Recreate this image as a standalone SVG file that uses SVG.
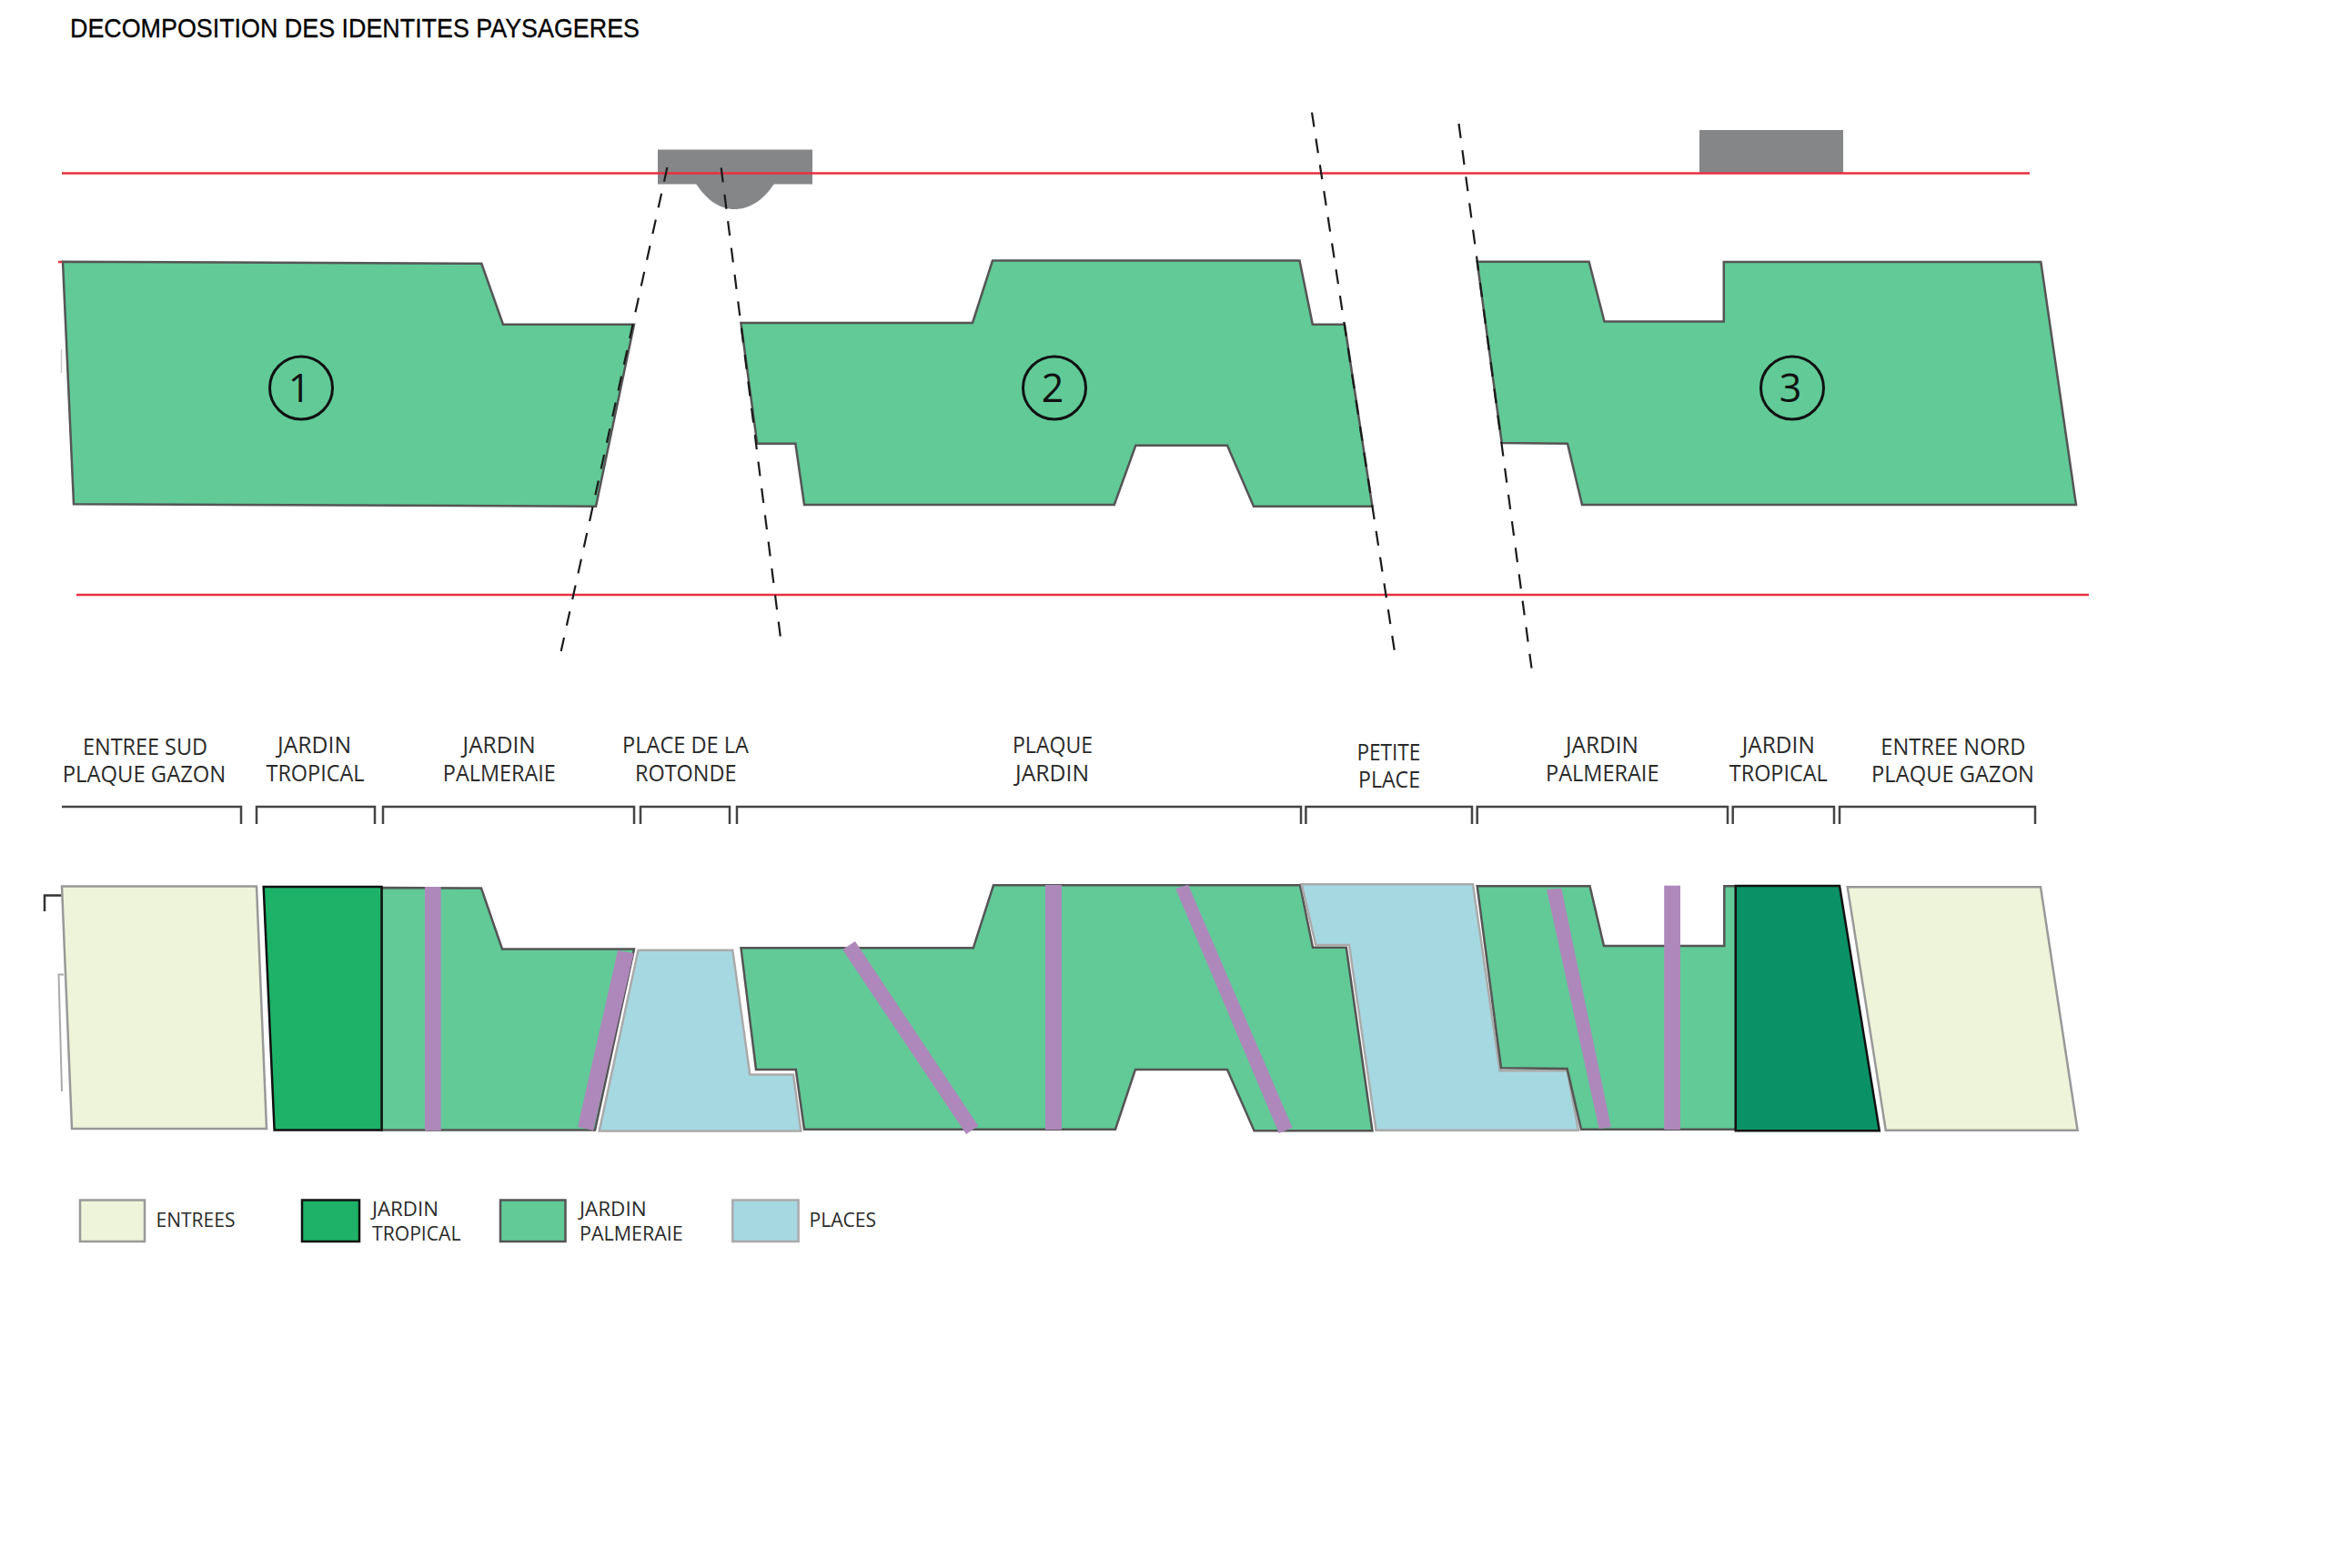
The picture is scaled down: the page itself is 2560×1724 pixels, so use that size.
<svg xmlns="http://www.w3.org/2000/svg" width="2560" height="1724" viewBox="0 0 2560 1724">
<style>
.red{stroke:#E8303F;stroke-width:2.5;fill:none}
.dash{stroke:#1a1a1a;stroke-width:2.2;fill:none}
.gray{fill:#858688}
.pal{fill:#61CA97;stroke:#555;stroke-width:2.5;stroke-linejoin:miter}
.ent{fill:#EEF4D9;stroke:#999;stroke-width:2.5}
.trop{fill:#1DB268;stroke:#111;stroke-width:2.5}
.trop2{fill:#0B9166;stroke:#111;stroke-width:2.5}
.plc{fill:#A6D8E2;stroke:#aaa;stroke-width:2.5}
.pur{fill:#AE88BB}
.br{stroke:#444;stroke-width:2.5;fill:none}
.num{fill:none;stroke:#111;stroke-width:3}
text{font-family:"Open Sans","Noto Sans","Liberation Sans",sans-serif;fill:#2a2a2a}
.h{font-size:25px;text-anchor:start}
.l{font-size:22.5px;text-anchor:start}
.n{font-size:43px;text-anchor:middle;fill:#111}
.t{font-family:"Liberation Sans",Arial,sans-serif;font-size:29px;fill:#000;stroke:#000;stroke-width:.3}
</style>
<text class="t" x="77" y="40.5" textLength="626" lengthAdjust="spacingAndGlyphs">DECOMPOSITION DES IDENTITES PAYSAGERES</text>

<g id="site-plan">
<rect id="building-1" class="gray" x="723" y="164.5" width="170" height="38"/>
<path class="gray" d="M765 202C778 222 793 230 807 230C822 230 838 222 851 202Z"/>
<rect id="building-2" class="gray" x="1868" y="143" width="158" height="47.5"/>
<line class="red" x1="64" y1="288" x2="70" y2="288"/>
<line x1="67.5" y1="384" x2="67.5" y2="410" stroke="#ccc" stroke-width="1.5"/>
<g id="zone-1">
<polygon class="pal" points="69,287.8 529.3,289.8 553,356.7 697,356.7 655,556.7 81,554.3"/>
<circle class="num" cx="331" cy="426.5" r="34.5"/><text class="n" x="329" y="442">1</text>
</g>
<g id="zone-2">
<polygon class="pal" points="814.4,355 1069,355 1091,286.5 1428.5,286.5 1442.8,356.7 1478,356.7 1508.4,556.7 1378,556.7 1349,489.8 1248.3,489.8 1224.8,555 884,555 874.4,487.8 832.3,487.8"/>
<circle class="num" cx="1159" cy="426.5" r="34.5"/><text class="n" x="1157" y="442">2</text>
</g>
<g id="zone-3">
<polygon class="pal" points="1623.7,287.8 1746.6,287.8 1763.5,353.5 1894.8,353.5 1894.8,288 2243.3,288 2282,555 1739,555 1723,487.8 1650.7,487"/>
<circle class="num" cx="1970" cy="426.5" r="34.5"/><text class="n" x="1968" y="442">3</text>
</g>
</g>

<g id="connectors">
<line class="red" x1="68" y1="190.6" x2="2231" y2="190.6"/>
<line class="red" x1="84" y1="654" x2="2296" y2="654"/>
<line class="dash" stroke-dasharray="16 13.4" x1="733.4" y1="184" x2="616.7" y2="716"/>
<line class="dash" stroke-dasharray="16 13.6" x1="792.7" y1="184.5" x2="857.8" y2="700"/>
<line class="dash" stroke-dasharray="16 13.1" x1="1442" y1="123.7" x2="1532.8" y2="715.5"/>
<line class="dash" stroke-dasharray="16 13.4" x1="1603.5" y1="136" x2="1683.5" y2="734.7"/>
</g>

<g id="brackets">
<path class="br" d="M68 887H265V906"/>
<path class="br" d="M282 906V887H412V906"/>
<path class="br" d="M421 906V887H697V906"/>
<path class="br" d="M704 906V887H802V906"/>
<path class="br" d="M810 906V887H1430V906"/>
<path class="br" d="M1435.4 906V887H1618V906"/>
<path class="br" d="M1623.7 906V887H1899V906"/>
<path class="br" d="M1904.7 906V887H2016V906"/>
<path class="br" d="M2022 906V887H2237V906"/>
</g>

<g id="section-labels">
<text class="h" x="91" y="830" textLength="137" lengthAdjust="spacingAndGlyphs">ENTREE SUD</text>
<text class="h" x="68.7" y="859.5" textLength="179.6" lengthAdjust="spacingAndGlyphs">PLAQUE GAZON</text>
<text class="h" x="305" y="828.4" textLength="81" lengthAdjust="spacingAndGlyphs">JARDIN</text>
<text class="h" x="292.5" y="858.6" textLength="108" lengthAdjust="spacingAndGlyphs">TROPICAL</text>
<text class="h" x="508.6" y="828.4" textLength="80" lengthAdjust="spacingAndGlyphs">JARDIN</text>
<text class="h" x="486.8" y="858.6" textLength="124" lengthAdjust="spacingAndGlyphs">PALMERAIE</text>
<text class="h" x="684" y="828.4" textLength="139" lengthAdjust="spacingAndGlyphs">PLACE DE LA</text>
<text class="h" x="698" y="858.6" textLength="111.5" lengthAdjust="spacingAndGlyphs">ROTONDE</text>
<text class="h" x="1113" y="828.4" textLength="88" lengthAdjust="spacingAndGlyphs">PLAQUE</text>
<text class="h" x="1116" y="858.6" textLength="81" lengthAdjust="spacingAndGlyphs">JARDIN</text>
<text class="h" x="1491.4" y="836" textLength="70" lengthAdjust="spacingAndGlyphs">PETITE</text>
<text class="h" x="1493" y="866" textLength="68" lengthAdjust="spacingAndGlyphs">PLACE</text>
<text class="h" x="1721" y="828.4" textLength="80" lengthAdjust="spacingAndGlyphs">JARDIN</text>
<text class="h" x="1699" y="858.6" textLength="124.5" lengthAdjust="spacingAndGlyphs">PALMERAIE</text>
<text class="h" x="1914.8" y="828.4" textLength="80" lengthAdjust="spacingAndGlyphs">JARDIN</text>
<text class="h" x="1900.8" y="858.6" textLength="108" lengthAdjust="spacingAndGlyphs">TROPICAL</text>
<text class="h" x="2067.3" y="830" textLength="159" lengthAdjust="spacingAndGlyphs">ENTREE NORD</text>
<text class="h" x="2057" y="859.5" textLength="179" lengthAdjust="spacingAndGlyphs">PLAQUE GAZON</text>
</g>

<g id="section">
<path d="M49 1002V984.5H68" fill="none" stroke="#333" stroke-width="2.5"/>
<path d="M70 1071.5H64.5L68 1200" fill="none" stroke="#aaa" stroke-width="2"/>
<polygon id="palmeraie-1" class="pal" points="419.5,976 529,976.5 552,1043.5 697,1043.5 654,1242.5 419.5,1242.5"/>
<polygon id="entree-sud" class="ent" points="68,974.5 282,974.5 293,1241 79,1241"/>
<polygon id="tropical-1" class="trop" points="289.7,975 419.5,975 419.5,1242.5 301.6,1242.5"/>
<rect class="pur" x="467" y="975" width="17.7" height="268"/>
<polygon class="pur" points="679,1045 696.6,1048 652,1243 635,1239"/>
<polygon id="place-rotonde" class="plc" points="701.5,1044.7 805.3,1044.7 824.3,1181.6 872,1181.6 880.4,1243.5 658.7,1243.5"/>
<polygon id="plaque-jardin" class="pal" points="814.5,1042.3 1069.8,1042.3 1092,973.3 1429,973.3 1443,1041.7 1479.8,1041.7 1508.5,1243.3 1378.6,1243.3 1349,1176 1247.9,1176 1226,1241.7 884,1241.7 874.8,1176 831,1176"/>
<polygon class="pur" points="926,1044 940,1035 1075.4,1238 1062,1247"/>
<rect class="pur" x="1149" y="973" width="18" height="269"/>
<polygon class="pur" points="1292.2,977 1306,972.7 1420.6,1240 1405.8,1246"/>
<polygon id="petite-place" class="plc" points="1430.7,972.3 1619,972.3 1648.6,1177.3 1722.6,1177.3 1735,1242.7 1512.5,1242.7 1483,1039 1446.3,1039"/>
<polygon id="palmeraie-2" class="pal" points="1623.7,974.3 1747.5,974.3 1763,1040 1895.3,1040 1895.3,974.3 1908,974.3 1908,1241.7 1738,1241.7 1722.6,1175 1650,1174.3"/>
<polygon id="tropical-2" class="trop2" points="1907.8,974 2022,974 2065.8,1243.3 1907.8,1243.3"/>
<polygon id="entree-nord" class="ent" points="2030.7,975.2 2243,975.2 2283.6,1242.7 2072.8,1242.7"/>
<polygon class="pur" points="1700,978 1716.4,976.7 1770.8,1239.3 1757.6,1241"/>
<rect class="pur" x="1829.2" y="973.7" width="17.8" height="268.3"/>
</g>

<g id="legend">
<g id="legend-entrees"><rect class="ent" x="88" y="1319.5" width="71" height="45.5"/><text class="l" x="171.5" y="1348.5" textLength="87" lengthAdjust="spacingAndGlyphs">ENTREES</text></g>
<g id="legend-tropical"><rect class="trop" x="332" y="1319.5" width="63" height="45.5"/><text class="l" x="409" y="1337" textLength="73" lengthAdjust="spacingAndGlyphs">JARDIN</text><text class="l" x="409" y="1364" textLength="97.5" lengthAdjust="spacingAndGlyphs">TROPICAL</text></g>
<g id="legend-palmeraie"><rect class="pal" x="550" y="1319.5" width="71.5" height="45.5"/><text class="l" x="637" y="1337" textLength="73.6" lengthAdjust="spacingAndGlyphs">JARDIN</text><text class="l" x="637" y="1364" textLength="113.7" lengthAdjust="spacingAndGlyphs">PALMERAIE</text></g>
<g id="legend-places"><rect class="plc" x="805.3" y="1319.5" width="72.3" height="45.5"/><text class="l" x="889.5" y="1348.5" textLength="73.6" lengthAdjust="spacingAndGlyphs">PLACES</text></g>
</g>
</svg>
